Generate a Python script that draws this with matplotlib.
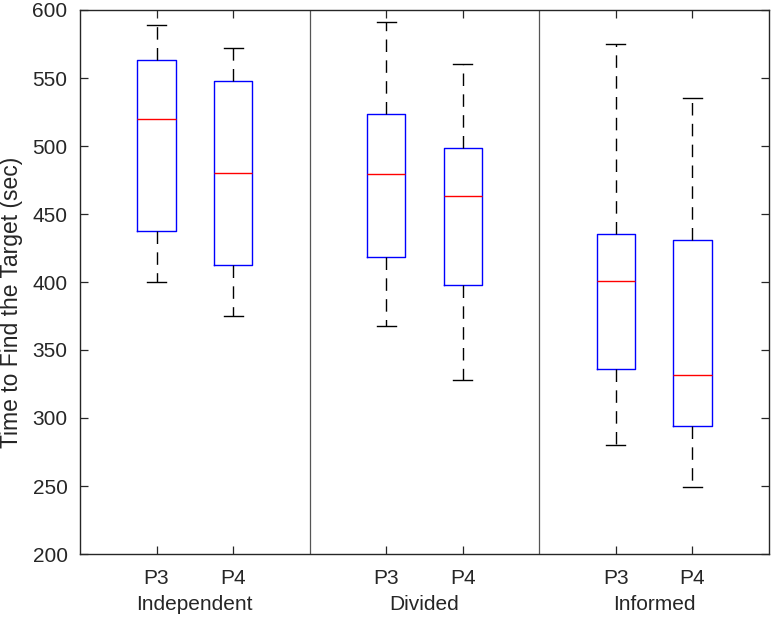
import matplotlib
matplotlib.use('Agg')
import matplotlib.pyplot as plt

plt.rcParams['font.family'] = ['Liberation Sans', 'DejaVu Sans']

# box statistics (sec)
groups = ['Independent', 'Divided', 'Informed']
tick_labels = ['P3', 'P4', 'P3', 'P4', 'P3', 'P4']
lower_whisker = [400, 375, 368, 328, 280, 249]
q1 = [437.5, 412.5, 418.5, 397.5, 336, 294]
median = [519.5, 480, 479.5, 463.5, 401, 331.5]
q3 = [563.5, 548, 523.5, 498.5, 435.5, 431]
upper_whisker = [589, 572, 591, 560.5, 575, 535]

positions = [1, 2, 4, 5, 7, 8]
separators = [3, 6]

stats = []
for i in range(len(tick_labels)):
    stats.append({'whislo': lower_whisker[i], 'q1': q1[i], 'med': median[i],
                  'q3': q3[i], 'whishi': upper_whisker[i], 'fliers': [],
                  'label': tick_labels[i]})

fig = plt.figure(figsize=(7.72, 6.17), dpi=100)
ax = fig.add_axes([80 / 772, 63 / 617, 689 / 772, 544 / 617])

ax.bxp(stats, positions=positions, widths=0.5, showfliers=False,
       boxprops=dict(color='#0000ff', linewidth=1.0),
       medianprops=dict(color='#ff0000', linewidth=1.0),
       whiskerprops=dict(color='black', linewidth=1.0, linestyle=(0, (9, 6))),
       capprops=dict(color='black', linewidth=1.0),
       capwidths=0.25)

# group separators
for s in separators:
    ax.axvline(s, color='#555555', linewidth=0.9)

ax.set_xlim(0, 9)
ax.set_ylim(200, 600)
ax.set_yticks(range(200, 601, 50))
ax.set_xticks(positions)
ax.set_xticklabels(tick_labels)

for sp in ax.spines.values():
    sp.set_color('#262626')
    sp.set_linewidth(1.0)

ax.tick_params(direction='in', length=6, width=0.9, color='#262626',
               labelsize=15, labelcolor='#262626', top=True, right=True, pad=9)
ax.tick_params(axis='x', pad=11)

for i, g in enumerate(groups):
    ax.text((positions[2 * i] + positions[2 * i + 1]) / 2, -0.075, g,
            transform=ax.get_xaxis_transform(), ha='center', va='top',
            fontsize=15, color='#262626')

ax.set_ylabel('Time to Find the Target (sec)', fontsize=16.5, color='#262626')
ax.yaxis.set_label_coords(-0.083, 0.463)

fig.savefig('out.png', dpi=100)
